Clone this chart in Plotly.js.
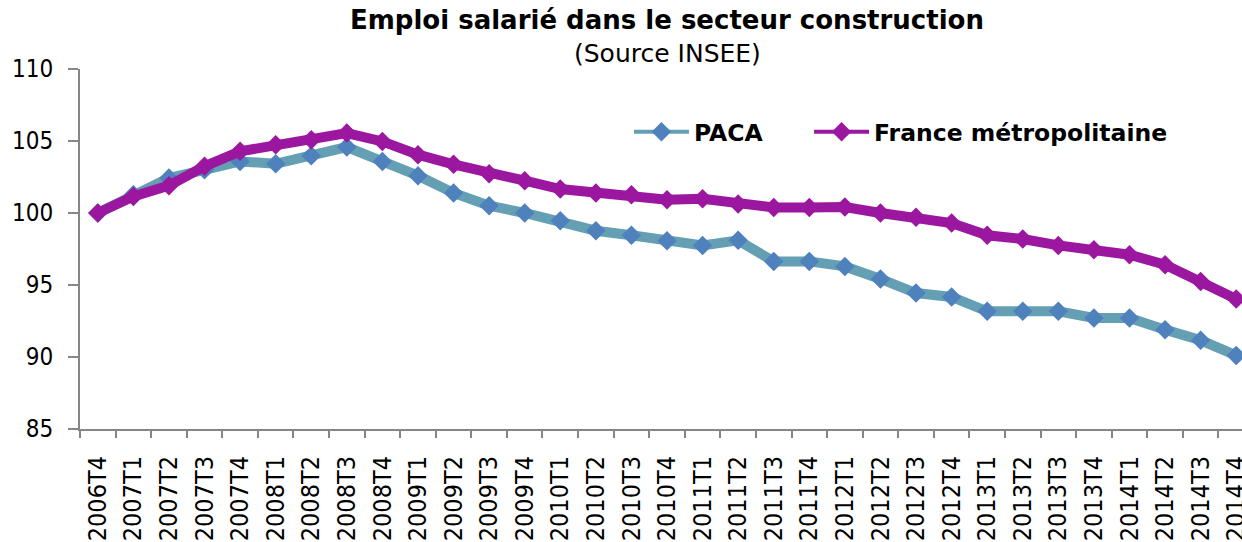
<!DOCTYPE html>
<html>
<head>
<meta charset="utf-8">
<script src="https://cdn.plot.ly/plotly-3.0.1.min.js"></script>
<style>
html,body{margin:0;padding:0;overflow:hidden;background:#fff;}
#chart{width:1258px;height:542px;}
</style>
</head>
<body>
<div id="chart"></div>
<script>
const categories = ["2006T4",
  "2007T1","2007T2","2007T3","2007T4",
  "2008T1","2008T2","2008T3","2008T4",
  "2009T1","2009T2","2009T3","2009T4",
  "2010T1","2010T2","2010T3","2010T4",
  "2011T1","2011T2","2011T3","2011T4",
  "2012T1","2012T2","2012T3","2012T4",
  "2013T1","2013T2","2013T3","2013T4",
  "2014T1","2014T2","2014T3","2014T4"];
const paca = [100, 101.27, 102.43, 103.0, 103.58, 103.42, 103.98, 104.58, 103.58, 102.59,
  101.39, 100.51, 100.0, 99.47, 98.77, 98.45, 98.08, 97.75, 98.1, 96.64,
  96.64, 96.29, 95.42, 94.44, 94.17, 93.17, 93.17, 93.17, 92.71, 92.71,
  91.9, 91.16, 90.11];
const france = [100, 101.15, 101.9, 103.24, 104.28, 104.74, 105.09, 105.55, 104.97, 104.05,
  103.38, 102.73, 102.24, 101.66, 101.39, 101.27, 100.92, 100.99, 100.62, 100.39,
  100.39, 100.41, 100.0, 99.7, 99.3, 98.45, 98.19, 97.75, 97.45, 97.1,
  96.41, 95.25, 94.03];
const seriesNames = ["PACA", "France métropolitaine"];
const yTicks = [85, 90, 95, 100, 105, 110];
const titleText = "Emploi salarié dans le secteur construction";
const subtitleText = "(Source INSEE)";

const COND = "DejaVu Sans Condensed, DejaVu Sans, sans-serif";
const WIDE = "DejaVu Sans, Verdana, sans-serif";
const pacaLine = "#659FB4", pacaMarker = "#4F81BD";
const frLine = "#9C17A0", frMarker = "#9C17A0";

const traces = [
  {x: categories, y: paca, type: "scatter", mode: "lines+markers", showlegend: false,
   line: {color: pacaLine, width: 10}, marker: {symbol: "diamond", size: 15, color: pacaMarker},
   cliponaxis: false, name: seriesNames[0]},
  {x: categories, y: france, type: "scatter", mode: "lines+markers", showlegend: false,
   line: {color: frLine, width: 10}, marker: {symbol: "diamond", size: 15, color: frMarker},
   cliponaxis: false, name: seriesNames[1]},
  {x: [null], y: [null], type: "scatter", mode: "lines+markers", name: seriesNames[0], legend: "legend",
   line: {color: pacaLine, width: 4}, marker: {symbol: "diamond", size: 15, color: pacaMarker}},
  {x: [null], y: [null], type: "scatter", mode: "lines+markers", name: seriesNames[1], legend: "legend2",
   line: {color: frLine, width: 4}, marker: {symbol: "diamond", size: 15, color: frMarker}}
];

const legendFont = {family: WIDE, size: 23.5, color: "#000", weight: "bold"};

const layout = {
  width: 1258, height: 542,
  margin: {l: 80, r: 4, t: 69, b: 113, pad: 0},
  paper_bgcolor: "#fff", plot_bgcolor: "#fff",
  font: {family: COND, color: "#000", size: 24},
  title: {
    text: "<b>" + titleText + "</b>",
    font: {family: WIDE, size: 26, color: "#000", weight: "bold"},
    x: 0.5, xref: "paper", xanchor: "center",
    y: 0.98, yref: "container", yanchor: "top"
  },
  annotations: [{
    text: subtitleText, showarrow: false,
    xref: "paper", x: 0.5, xanchor: "center",
    yref: "paper", y: 1.0417, yanchor: "middle",
    font: {family: WIDE, size: 25, color: "#000"}
  }],
  showlegend: true,
  legend: {
    orientation: "h", x: 0.4676, xanchor: "left", y: 0.825, yanchor: "middle",
    font: legendFont, itemwidth: 55, bgcolor: "rgba(0,0,0,0)"
  },
  legend2: {
    orientation: "h", x: 0.621, xanchor: "left", y: 0.825, yanchor: "middle",
    font: legendFont, itemwidth: 55, bgcolor: "rgba(0,0,0,0)"
  },
  xaxis: {
    type: "category", range: [-0.5, 32.5], fixedrange: true,
    showline: true, linecolor: "#868686", linewidth: 2,
    ticks: "outside", tickson: "boundaries", ticklen: 7, tickwidth: 2, tickcolor: "#868686",
    tickangle: -90, tickfont: {family: COND, size: 25, color: "#000"}, ticklabelstandoff: 15,
    showgrid: false, zeroline: false, automargin: false
  },
  yaxis: {
    range: [85, 110], tickvals: yTicks, ticktext: yTicks.map(String), fixedrange: true,
    showline: true, linecolor: "#868686", linewidth: 2,
    ticks: "outside", ticklen: 10, tickwidth: 2, tickcolor: "#868686",
    tickfont: {family: COND, size: 24, color: "#000"}, ticklabelstandoff: 10,
    showgrid: false, zeroline: false, automargin: false
  }
};

Plotly.newPlot("chart", traces, layout, {displayModeBar: false, staticPlot: true});
</script>
</body>
</html>
